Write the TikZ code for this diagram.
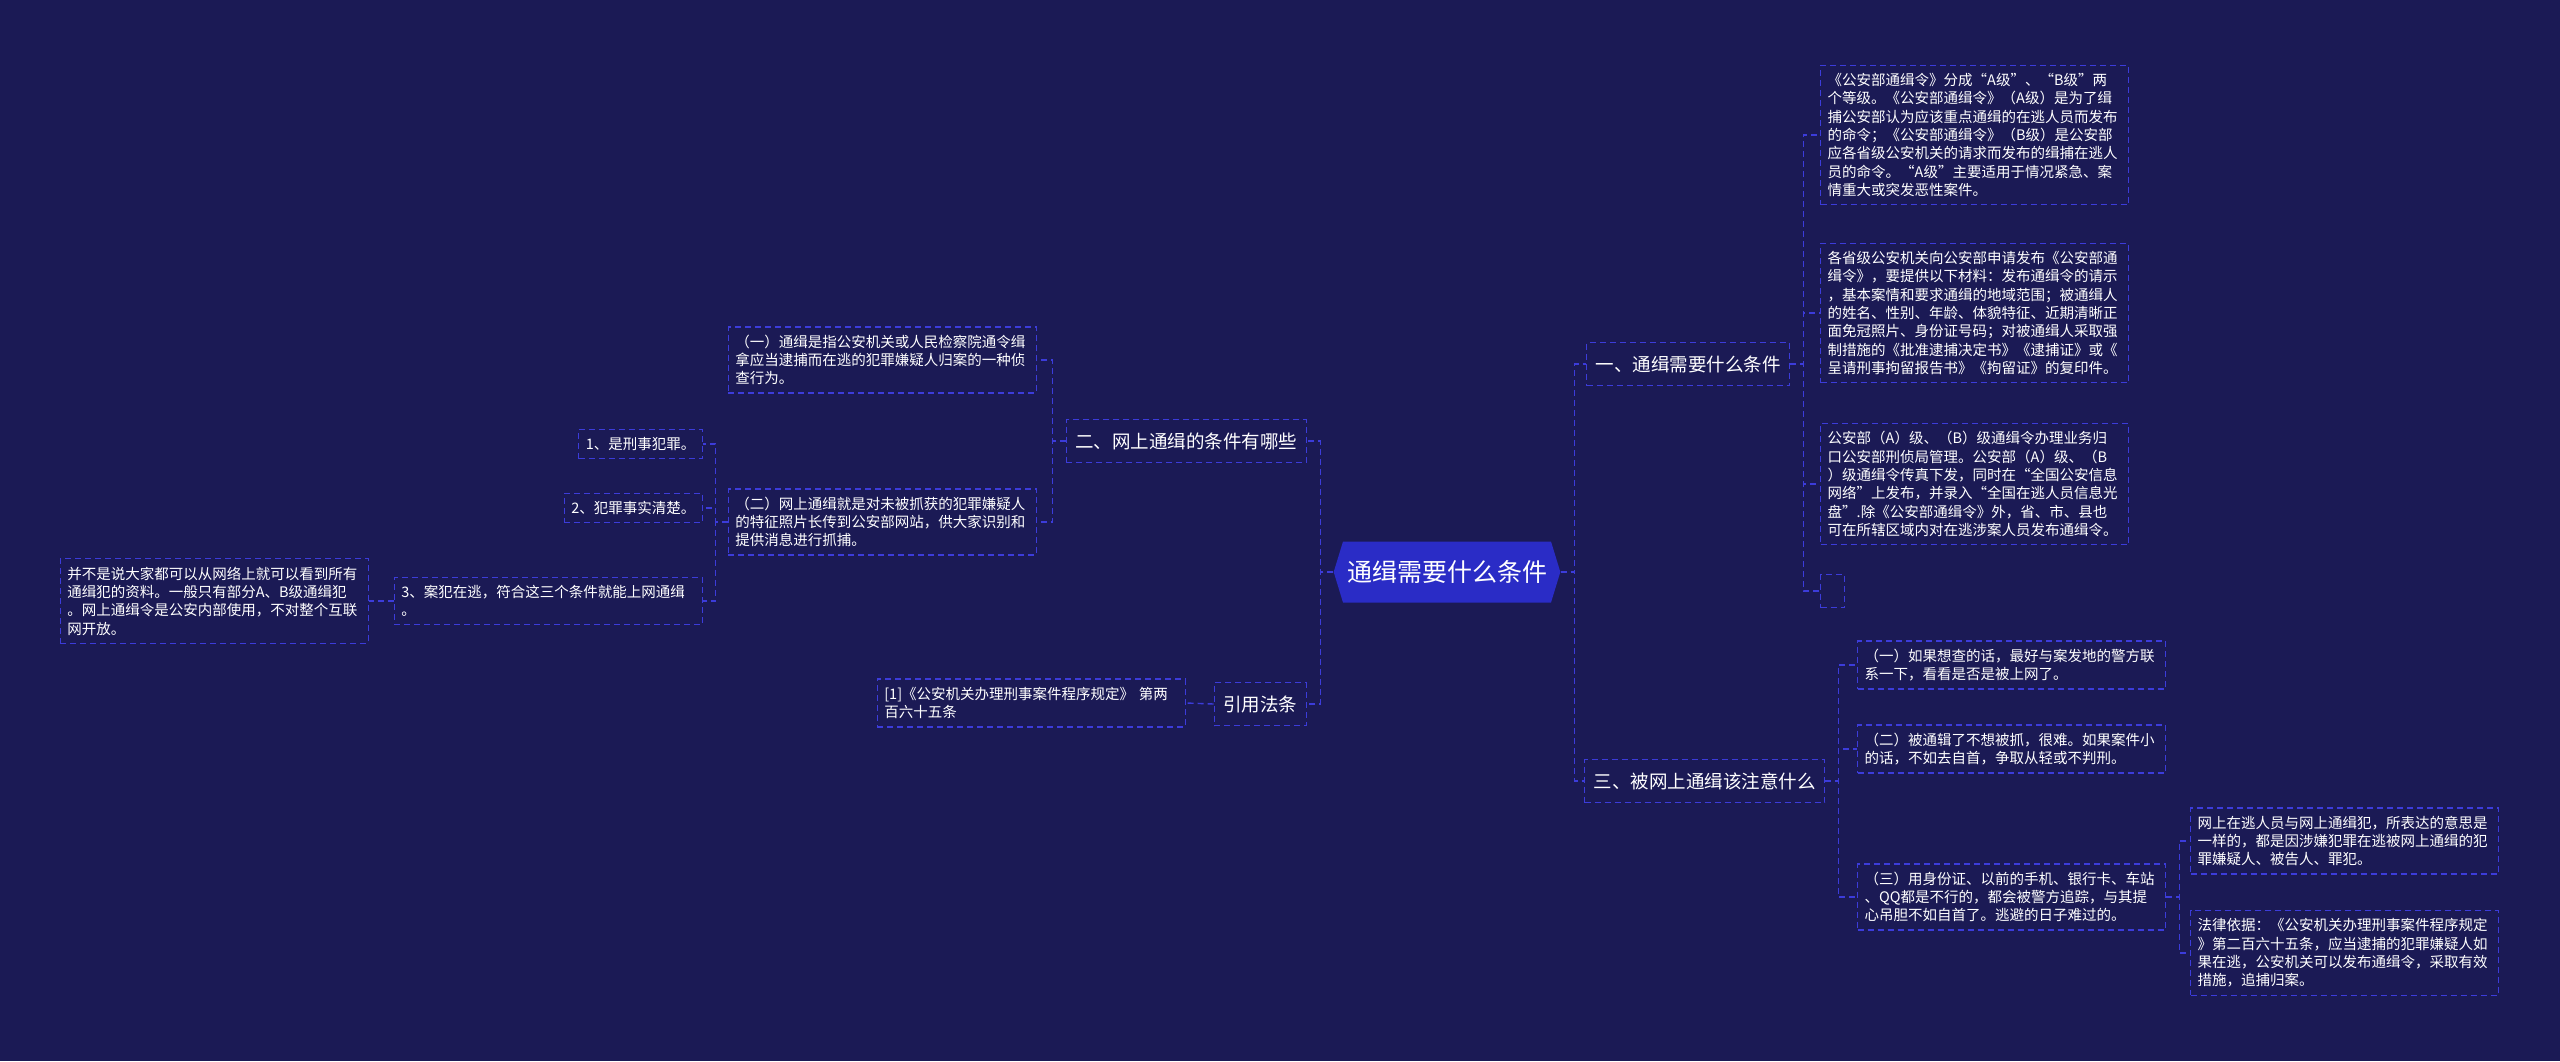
\documentclass[tikz,border=0pt]{standalone}
\usepackage{fontspec}
\setmainfont{Noto Sans CJK SC}
\usepackage{xcolor}
\definecolor{bgnavy}{HTML}{1B1A55}
\definecolor{linkblue}{HTML}{3C3CDA}
\definecolor{rootblue}{HTML}{2A2CC6}
\usepackage{tikz}
\usetikzlibrary{shapes.symbols, positioning}

\begin{document}
\begin{tikzpicture}[x=1pt, y=-1pt,
	box/.style={rectangle, draw=linkblue, dash pattern=on 6pt off 4pt, line width=1.4pt,
	            text=white, align=left, font=\fontsize{14.5}{18.3}\selectfont,
	            inner xsep=7pt, inner ysep=8pt},
	wide/.style={box, text width=294pt},
	topic/.style={box, font=\fontsize{18.5}{22}\selectfont, minimum height=43pt, inner xsep=9pt},
	main/.style={signal, signal to=west and east, signal pointer angle=146, fill=rootblue,
	             text=white, font=\fontsize{25}{30}\selectfont, minimum height=61pt, inner xsep=4pt},
	link/.style={draw=linkblue, dash pattern=on 6pt off 4pt, line width=1.4pt}
	]
	\fill[bgnavy] (0,0) rectangle (2560,1061);

	\node[main] (root) at (1447,572) {通缉需要什么条件};
	\node[topic, anchor=west] (one) at (1586,364) {一、通缉需要什么条件};
	\node[topic, anchor=west] (three) at (1584,781) {三、被网上通缉该注意什么};
	\node[topic, anchor=east] (two) at (1307,441) {二、网上通缉的条件有哪些};
	\node[topic, anchor=east] (law) at (1307,704) {引用法条};

	% right side, first branch
	\node[wide, anchor=west] (grade) at (1820,135) {《公安部通缉令》分成“A级”、“B级”两\\个等级。《公安部通缉令》（A级）是为了缉\\捕公安部认为应该重点通缉的在逃人员而发布\\的命令；《公安部通缉令》（B级）是公安部\\应各省级公安机关的请求而发布的缉捕在逃人\\员的命令。“A级”主要适用于情况紧急、案\\情重大或突发恶性案件。};
	\node[wide, anchor=west] (apply) at (1820,313) {各省级公安机关向公安部申请发布《公安部通\\缉令》，要提供以下材料：发布通缉令的请示\\，基本案情和要求通缉的地域范围；被通缉人\\的姓名、性别、年龄、体貌特征、近期清晰正\\面免冠照片、身份证号码；对被通缉人采取强\\制措施的《批准逮捕决定书》《逮捕证》或《\\呈请刑事拘留报告书》《拘留证》的复印件。};
	\node[wide, anchor=west] (office) at (1820,484) {公安部（A）级、（B）级通缉令办理业务归\\口公安部刑侦局管理。公安部（A）级、（B\\）级通缉令传真下发，同时在“全国公安信息\\网络”上发布，并录入“全国在逃人员信息光\\盘”.除《公安部通缉令》外，省、市、县也\\可在所辖区域内对在逃涉案人员发布通缉令。};
	\node[box, anchor=west, minimum width=24pt, minimum height=33pt] (blank) at (1820,591) {};

	% right side, third branch
	\node[wide, anchor=west] (check) at (1857,665) {（一）如果想查的话，最好与案发地的警方联\\系一下，看看是否是被上网了。};
	\node[wide, anchor=west] (surrender) at (1857,749) {（二）被通辑了不想被抓，很难。如果案件小\\的话，不如去自首，争取从轻或不判刑。};
	\node[wide, anchor=west] (trace) at (1857,897) {（三）用身份证、以前的手机、银行卡、车站\\、QQ都是不行的，都会被警方追踪，与其提\\心吊胆不如自首了。逃避的日子难过的。};
	\node[wide, anchor=west] (same) at (2190,841) {网上在逃人员与网上通缉犯，所表达的意思是\\一样的，都是因涉嫌犯罪在逃被网上通缉的犯\\罪嫌疑人、被告人、罪犯。};
	\node[wide, anchor=west] (basis) at (2190,953) {法律依据：《公安机关办理刑事案件程序规定\\》第二百六十五条，应当逮捕的犯罪嫌疑人如\\果在逃，公安机关可以发布通缉令，采取有效\\措施，追捕归案。};

	% left side
	\node[wide, anchor=east] (define) at (1037,360) {（一）通缉是指公安机关或人民检察院通令缉\\拿应当逮捕而在逃的犯罪嫌疑人归案的一种侦\\查行为。};
	\node[wide, anchor=east] (online) at (1037,522) {（二）网上通缉就是对未被抓获的犯罪嫌疑人\\的特征照片长传到公安部网站，供大家识别和\\提供消息进行抓捕。};
	\node[box, anchor=east] (cond1) at (703,444) {1、是刑事犯罪。};
	\node[box, anchor=east] (cond2) at (703,508) {2、犯罪事实清楚。};
	\node[wide, anchor=east] (cond3) at (703,601) {3、案犯在逃，符合这三个条件就能上网通缉\\。};
	\node[wide, anchor=east] (notall) at (369,601) {并不是说大家都可以从网络上就可以看到所有\\通缉犯的资料。一般只有部分A、B级通缉犯\\。网上通缉令是公安内部使用，不对整个互联\\网开放。};
	\node[wide, anchor=east] (ref) at (1186,703) {[1]《公安机关办理刑事案件程序规定》 第两\\百六十五条};

	% connectors
	\foreach \t in {one, three}
		\draw[link] (root.east) -- ++(14,0) |- (\t.west);
	\foreach \t in {two, law}
		\draw[link] (root.west) -- ++(-13,0) |- (\t.east);
	\foreach \t in {grade, apply, office, blank}
		\draw[link] (one.east) -- ++(13,0) |- (\t.west);
	\foreach \t in {check, surrender, trace}
		\draw[link] (three.east) -- ++(13,0) |- (\t.west);
	\foreach \t in {same, basis}
		\draw[link] (trace.east) -- ++(13,0) |- (\t.west);
	\foreach \t in {define, online}
		\draw[link] (two.west) -- ++(-13,0) |- (\t.east);
	\foreach \t in {cond1, cond2, cond3}
		\draw[link] (online.west) -- ++(-12,0) |- (\t.east);
	\draw[link] (cond3.west) -- (notall.east);
	\draw[link] (law.west) -- (ref.east);
\end{tikzpicture}
\end{document}
